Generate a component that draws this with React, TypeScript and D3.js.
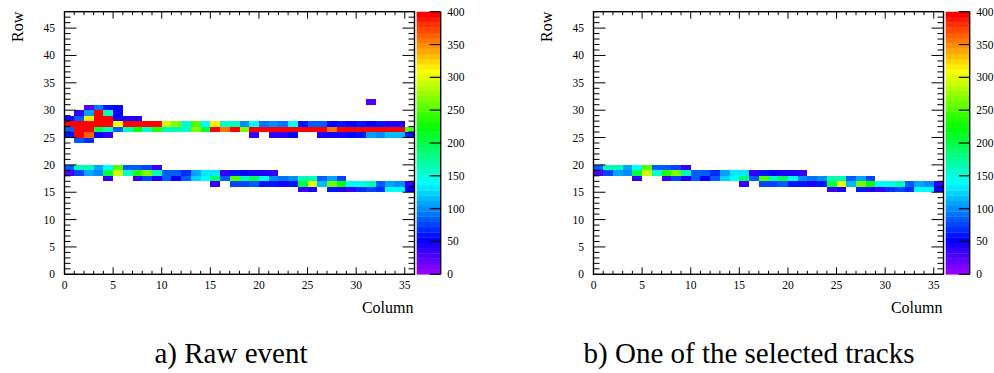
import React, { useEffect, useRef } from 'react';
import * as d3 from 'd3';

// Axis ranges and ticks
const columnDomain = [0, 36];
const rowDomain = [0, 48];
const columnTicks = [0, 5, 10, 15, 20, 25, 30, 35];
const rowTicks = [0, 5, 10, 15, 20, 25, 30, 35, 40, 45];
const paletteTicks = [0, 50, 100, 150, 200, 250, 300, 350, 400];
const paletteMax = 400;

// Lower track (rows 19..15), identical in both panels. One value per column 0..35, 0 = empty
const trackRows = [19, 18, 17, 16, 15];
const trackValues = [
  [86, 165, 165, 107, 137, 250, 80, 80, 75, 38, 0, 0, 0, 0, 0, 0, 0, 0, 0, 0, 0, 0, 0, 0, 0, 0, 0, 0, 0, 0, 0, 0, 0, 0, 0, 0],
  [26, 75, 107, 101, 200, 292, 158, 238, 265, 165, 86, 86, 69, 107, 132, 132, 38, 58, 53, 40, 40, 33, 0, 0, 0, 0, 0, 0, 0, 0, 0, 0, 0, 0, 0, 0],
  [0, 0, 0, 0, 33, 0, 0, 33, 75, 43, 80, 53, 80, 123, 137, 188, 86, 250, 164, 194, 140, 96, 90, 101, 162, 167, 80, 107, 75, 0, 0, 0, 0, 0, 0, 0],
  [0, 0, 0, 0, 0, 0, 0, 0, 0, 0, 0, 0, 0, 0, 0, 33, 0, 75, 75, 86, 58, 58, 45, 58, 200, 300, 112, 258, 225, 140, 150, 163, 80, 107, 101, 33],
  [0, 0, 0, 0, 0, 0, 0, 0, 0, 0, 0, 0, 0, 0, 0, 0, 0, 0, 0, 0, 0, 0, 0, 0, 33, 43, 0, 63, 45, 38, 69, 75, 69, 137, 137, 55],
];

// Upper hits (rows 31..24), only in the raw event
const upperRows = [31, 30, 29, 28, 27, 26, 25, 24];
const upperValues = [
  [0, 0, 0, 0, 0, 0, 0, 0, 0, 0, 0, 0, 0, 0, 0, 0, 0, 0, 0, 0, 0, 0, 0, 0, 0, 0, 0, 0, 0, 0, 0, 28, 0, 0, 0, 0],
  [0, 0, 26, 90, 62, 48, 0, 0, 0, 0, 0, 0, 0, 0, 0, 0, 0, 0, 0, 0, 0, 0, 0, 0, 0, 0, 0, 0, 0, 0, 0, 0, 0, 0, 0, 0],
  [0, 38, 110, 450, 163, 50, 0, 0, 0, 0, 0, 0, 0, 0, 0, 0, 0, 0, 0, 0, 0, 0, 0, 0, 0, 0, 0, 0, 0, 0, 0, 0, 0, 0, 0, 0],
  [40, 85, 315, 420, 420, 42, 40, 42, 0, 0, 0, 0, 0, 0, 0, 0, 0, 0, 0, 0, 0, 0, 0, 0, 0, 0, 0, 0, 0, 0, 0, 0, 0, 0, 0, 0],
  [420, 420, 420, 420, 420, 310, 420, 420, 420, 420, 290, 265, 155, 250, 140, 315, 157, 165, 101, 140, 90, 96, 90, 140, 58, 86, 80, 50, 56, 52, 57, 54, 57, 42, 42, 0],
  [80, 420, 420, 200, 165, 86, 162, 225, 158, 238, 160, 160, 152, 270, 200, 420, 352, 420, 268, 420, 420, 420, 420, 420, 420, 420, 420, 352, 420, 420, 420, 420, 420, 420, 420, 250],
  [58, 420, 365, 52, 32, 0, 0, 0, 0, 0, 0, 0, 0, 0, 0, 0, 0, 0, 0, 36, 0, 33, 38, 53, 0, 0, 44, 40, 40, 53, 57, 107, 101, 112, 114, 57],
  [0, 80, 68, 0, 0, 0, 0, 0, 0, 0, 0, 0, 0, 0, 0, 0, 0, 0, 0, 0, 0, 0, 0, 0, 0, 0, 0, 0, 0, 0, 0, 0, 0, 0, 0, 0],
];

const captions = ['a) Raw event', 'b) One of the selected tracks'];

interface Cell { col: number; row: number; value: number; }

function toCells(rows: number[], values: number[][]): Cell[] {
  const out: Cell[] = [];
  rows.forEach((row, r) => {
    values[r].forEach((value, col) => {
      if (value > 0) out.push({ col, row, value });
    });
  });
  return out;
}

// ROOT "pretty" palette: 50 hues from violet to red
const nColors = 50;
const palette = d3.range(nColors).map(i => d3.hsl(280 - (i + 1) * (280 / nColors), 1, 0.5).formatHex());
const colorOf = (v: number) => palette[Math.max(0, Math.min(nColors - 1, Math.floor((v / paletteMax) * nColors)))];

const FONT = "'Liberation Serif', 'DejaVu Serif', 'Times New Roman', serif";

export default function App() {
  const ref = useRef<SVGSVGElement>(null);

  useEffect(() => {
    if (!ref.current) return;
    const svg = d3.select(ref.current);
    svg.selectAll('*').remove();

    const plotW = 350;
    const plotH = 262.6;
    const top = 11.7;
    const panelLeft = [64.5, 593.5];

    const x = d3.scaleLinear().domain(columnDomain).range([0, plotW]);
    const y = d3.scaleLinear().domain(rowDomain).range([plotH, 0]);
    const z = d3.scaleLinear().domain([0, paletteMax]).range([plotH, 0]);

    const trackCells = toCells(trackRows, trackValues);
    const panels = [toCells(upperRows, upperValues).concat(trackCells), trackCells];

    panels.forEach((cells, p) => {
      const g = svg.append('g').attr('transform', `translate(${panelLeft[p]},${top})`);

      // cells
      g.selectAll('rect.cell')
        .data(cells)
        .join('rect')
        .attr('class', 'cell')
        .attr('x', d => x(d.col))
        .attr('y', d => y(d.row + 1))
        .attr('width', x(1) - x(0))
        .attr('height', y(0) - y(1))
        .attr('fill', d => colorOf(d.value))
        .attr('shape-rendering', 'crispEdges');

      // ticks on all four sides
      const xt = d3.range(columnDomain[0], columnDomain[1]);
      const yt = d3.range(rowDomain[0], rowDomain[1]);
      const tk = g.append('g').attr('stroke', '#000').attr('stroke-width', 1);
      xt.forEach(c => {
        const len = c % 5 === 0 ? 7 : 3.5;
        tk.append('line').attr('x1', x(c)).attr('x2', x(c)).attr('y1', plotH).attr('y2', plotH - len);
        tk.append('line').attr('x1', x(c)).attr('x2', x(c)).attr('y1', 0).attr('y2', len);
      });
      yt.forEach(r => {
        const len = r % 5 === 0 ? 12 : 6;
        tk.append('line').attr('x1', 0).attr('x2', len).attr('y1', y(r)).attr('y2', y(r));
        tk.append('line').attr('x1', plotW).attr('x2', plotW - len).attr('y1', y(r)).attr('y2', y(r));
      });

      // frame
      g.append('rect')
        .attr('width', plotW)
        .attr('height', plotH)
        .attr('fill', 'none')
        .attr('stroke', '#000')
        .attr('stroke-width', 1.4);

      // tick labels
      g.selectAll('text.xl')
        .data(columnTicks)
        .join('text')
        .attr('class', 'xl')
        .attr('x', d => x(d))
        .attr('y', plotH + 14.5)
        .attr('text-anchor', 'middle')
        .style('font-family', FONT)
        .attr('font-size', 11.5)
        .text(d => d);

      g.selectAll('text.yl')
        .data(rowTicks)
        .join('text')
        .attr('class', 'yl')
        .attr('x', -9.5)
        .attr('y', d => y(d) + 4)
        .attr('text-anchor', 'end')
        .style('font-family', FONT)
        .attr('font-size', 11.5)
        .text(d => d);

      // axis titles
      g.append('text')
        .attr('x', plotW - 1)
        .attr('y', plotH + 38.5)
        .attr('text-anchor', 'end')
        .style('font-family', FONT)
        .attr('font-size', 16)
        .text('Column');

      g.append('text')
        .attr('transform', `translate(${-41.5},0) rotate(-90)`)
        .attr('text-anchor', 'end')
        .style('font-family', FONT)
        .attr('font-size', 16)
        .text('Row');

      // palette bar
      const pb = g.append('g').attr('transform', `translate(${plotW + 2.2},0)`);
      const barW = 24;
      pb.selectAll('rect')
        .data(palette)
        .join('rect')
        .attr('x', 0)
        .attr('y', (d, i) => z(((i + 1) * paletteMax) / nColors))
        .attr('width', barW)
        .attr('height', plotH / nColors + 0.3)
        .attr('fill', d => d);
      pb.append('line')
        .attr('x1', barW).attr('x2', barW).attr('y1', 0).attr('y2', plotH)
        .attr('stroke', '#000').attr('stroke-width', 1.4);
      pb.selectAll('line.pt')
        .data(paletteTicks)
        .join('line')
        .attr('class', 'pt')
        .attr('x1', barW - 11).attr('x2', barW)
        .attr('y1', d => z(d)).attr('y2', d => z(d))
        .attr('stroke', '#000').attr('stroke-width', 1.2);
      pb.selectAll('text')
        .data(paletteTicks)
        .join('text')
        .attr('x', barW + 6.5)
        .attr('y', d => z(d) + 4)
        .style('font-family', FONT)
        .attr('font-size', 11.5)
        .text(d => d);
    });

    // captions
    svg.selectAll('text.cap')
      .data(captions)
      .join('text')
      .attr('class', 'cap')
      .attr('x', (d, i) => [231, 749][i])
      .attr('y', 363)
      .attr('text-anchor', 'middle')
      .style('font-family', FONT)
      .attr('font-size', 29)
      .text(d => d);
  }, []);

  return (
    <svg
      ref={ref}
      width={994}
      height={373}
      style={{ position: 'absolute', left: 0, top: 0, background: '#fff' }}
    />
  );
}
